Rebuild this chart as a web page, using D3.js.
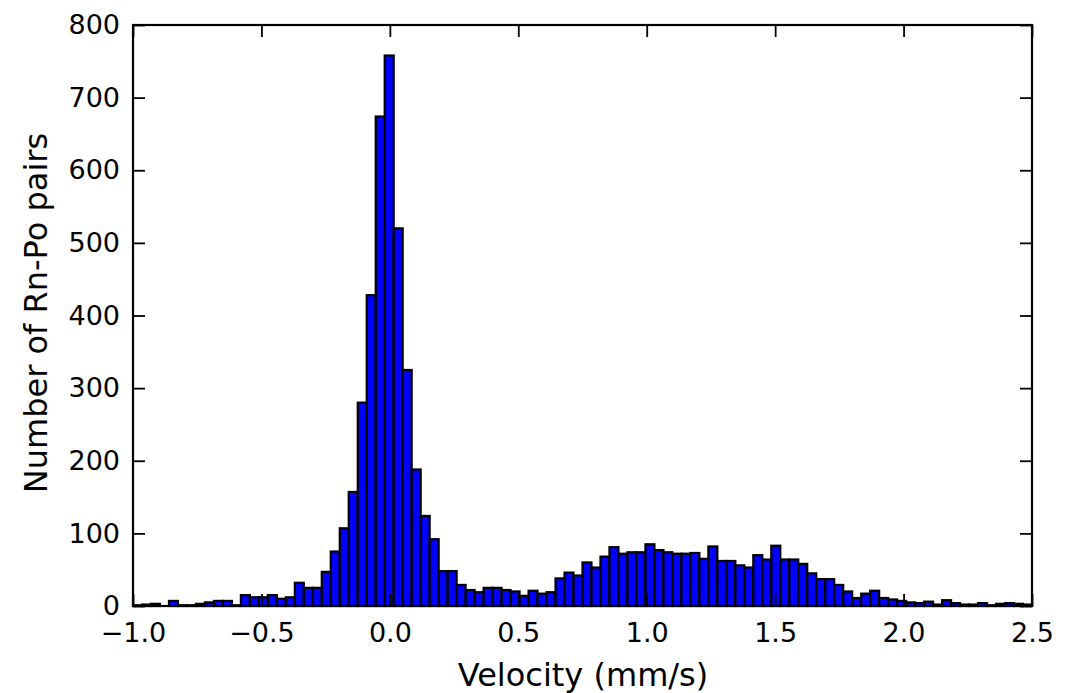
<!DOCTYPE html>
<html>
<head>
<meta charset="utf-8">
<script src="https://cdn.jsdelivr.net/npm/d3@7/dist/d3.min.js"></script>
<style>
  html, body { margin: 0; padding: 0; background: #fff; }
  svg { display: block; }
  text { font-family: "DejaVu Sans", sans-serif; fill: #000; }
</style>
</head>
<body>
<svg id="chart" width="1084" height="693"></svg>
<script>
// Histogram of Rn-Po pair velocities: 100 bins of 0.035 mm/s starting at -1.0
const binStart = -1.0;
const binWidth = 0.035;
const counts = [
  1, 2, 3, 0, 7, 1, 1, 3, 5, 7,
  7, 1, 15, 12, 12, 15, 10, 12, 32, 25,
  25, 47, 75, 107, 157, 280, 428, 674, 758, 520,
  325, 188, 124, 92, 48, 48, 29, 22, 19, 25,
  25, 22, 20, 14, 21, 17, 19, 38, 46, 42,
  60, 53, 68, 81, 72, 74, 74, 85, 77, 74,
  72, 72, 73, 65, 82, 62, 62, 56, 53, 70,
  64, 83, 64, 64, 58, 45, 37, 37, 29, 20,
  11, 17, 21, 11, 9, 7, 5, 4, 6, 2,
  8, 4, 2, 2, 4, 1, 3, 4, 3, 2
];
const xTicks = [-1.0, -0.5, 0.0, 0.5, 1.0, 1.5, 2.0, 2.5];
const yTicks = [0, 100, 200, 300, 400, 500, 600, 700, 800];
const xLabel = "Velocity (mm/s)";
const yLabel = "Number of Rn-Po pairs";

const plotL = 133, plotR = 1032, plotT = 25, plotB = 606;
const svg = d3.select("#chart");

const x = d3.scaleLinear().domain([-1.0, 2.5]).range([plotL, plotR]);
const y = d3.scaleLinear().domain([0, 800]).range([plotB, plotT]);

const bins = counts.map((c, i) => ({
  x0: binStart + i * binWidth,
  x1: binStart + (i + 1) * binWidth,
  count: c
}));

// bars
svg.append("g")
  .selectAll("rect")
  .data(bins)
  .join("rect")
  .attr("x", d => x(d.x0))
  .attr("y", d => y(d.count))
  .attr("width", d => x(d.x1) - x(d.x0))
  .attr("height", d => y(0) - y(d.count))
  .attr("fill", "#0000ff")
  .attr("stroke", "#000")
  .attr("stroke-width", 2.2);

const fmtX = d => (d < 0 ? "\u2212" : "") + Math.abs(d).toFixed(1);
const tickLen = 12;
const tickFont = 27;

// axes with inward ticks on every side
const bottomAxis = d3.axisBottom(x).tickValues(xTicks).tickFormat(fmtX)
  .tickSizeInner(-tickLen).tickSizeOuter(0).tickPadding(17);
const topAxis = d3.axisTop(x).tickValues(xTicks).tickFormat("")
  .tickSizeInner(-tickLen).tickSizeOuter(0);
const leftAxis = d3.axisLeft(y).tickValues(yTicks).tickFormat(d3.format("d"))
  .tickSizeInner(-tickLen).tickSizeOuter(0).tickPadding(13);
const rightAxis = d3.axisRight(y).tickValues(yTicks).tickFormat("")
  .tickSizeInner(-tickLen).tickSizeOuter(0);

function style(g) {
  g.select(".domain").remove();
  g.selectAll(".tick line").attr("stroke", "#000").attr("stroke-width", 1.8);
  g.selectAll(".tick text").style("font-family", "'DejaVu Sans', sans-serif")
    .style("font-size", tickFont + "px").attr("fill", "#000");
}

svg.append("g").attr("transform", `translate(0,${plotB})`).call(bottomAxis).call(style);
svg.append("g").attr("transform", `translate(0,${plotT})`).call(topAxis).call(style);
svg.append("g").attr("transform", `translate(${plotL},0)`).call(leftAxis).call(style);
svg.append("g").attr("transform", `translate(${plotR},0)`).call(rightAxis).call(style);

// frame
svg.append("rect")
  .attr("x", plotL).attr("y", plotT)
  .attr("width", plotR - plotL).attr("height", plotB - plotT)
  .attr("fill", "none").attr("stroke", "#000").attr("stroke-width", 2.2);

// axis titles
svg.append("text")
  .attr("x", 583).attr("y", 686)
  .attr("text-anchor", "middle")
  .style("font-size", "32px")
  .text(xLabel);

svg.append("text")
  .attr("transform", `translate(47,313) rotate(-90)`)
  .attr("text-anchor", "middle")
  .style("font-size", "32px")
  .text(yLabel);
</script>
</body>
</html>
